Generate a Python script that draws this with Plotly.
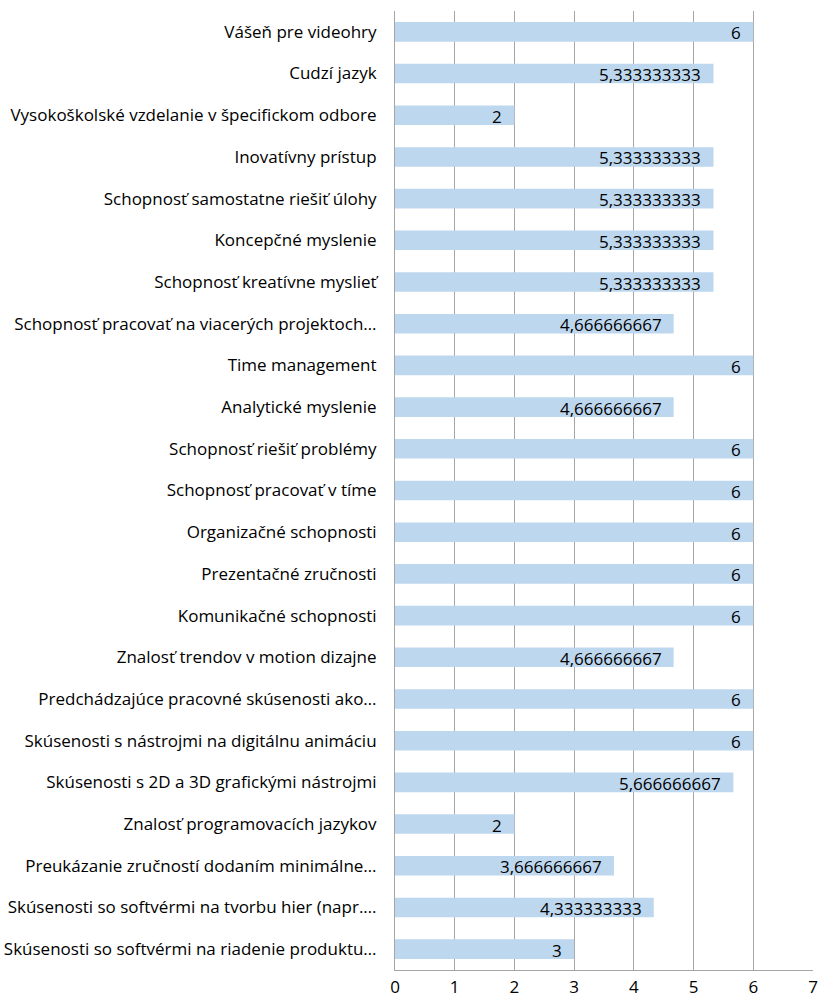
import plotly.graph_objects as go

categories = [
    "Vášeň pre videohry",
    "Cudzí jazyk",
    "Vysokoškolské vzdelanie v špecifickom odbore",
    "Inovatívny prístup",
    "Schopnosť samostatne riešiť úlohy",
    "Koncepčné myslenie",
    "Schopnosť kreatívne myslieť",
    "Schopnosť pracovať na viacerých projektoch…",
    "Time management",
    "Analytické myslenie",
    "Schopnosť riešiť problémy",
    "Schopnosť pracovať v tíme",
    "Organizačné schopnosti",
    "Prezentačné zručnosti",
    "Komunikačné schopnosti",
    "Znalosť trendov v motion dizajne",
    "Predchádzajúce pracovné skúsenosti ako…",
    "Skúsenosti s nástrojmi na digitálnu animáciu",
    "Skúsenosti s 2D a 3D grafickými nástrojmi",
    "Znalosť programovacích jazykov",
    "Preukázanie zručností dodaním minimálne…",
    "Skúsenosti so softvérmi na tvorbu hier (napr.…",
    "Skúsenosti so softvérmi na riadenie produktu…",
]
values = [6, 5.333333333, 2, 5.333333333, 5.333333333, 5.333333333, 5.333333333,
          4.666666667, 6, 4.666666667, 6, 6, 6, 6, 6, 4.666666667, 6, 6,
          5.666666667, 2, 3.666666667, 4.333333333, 3]
x_ticks = [0, 1, 2, 3, 4, 5, 6, 7]

labels = [format(v, ".10g").replace(".", ",") for v in values]

FONT = "Open Sans"
FS = 17

fig = go.Figure(go.Bar(
    y=categories, x=values, orientation="h",
    marker=dict(color="#BDD7EE", line=dict(width=0)),
    width=0.47, hoverinfo="x+y",
))

for cat, v, lab in zip(categories, values, labels):
    fig.add_annotation(
        x=v, y=cat, xref="x", yref="y", text=lab, showarrow=False,
        xanchor="right", yanchor="middle", xshift=-10, yshift=-1,
        font=dict(family=FONT, size=FS, color="#000000"),
    )

fig.update_layout(
    width=819, height=1007,
    margin=dict(l=395, r=6, t=11, b=37, autoexpand=False),
    paper_bgcolor="white", plot_bgcolor="white",
    showlegend=False,
    font=dict(family=FONT, size=FS, color="#000000"),
)
fig.update_xaxes(
    range=[0, 7], tickvals=x_ticks, ticktext=[str(t) for t in x_ticks],
    showgrid=True, gridcolor="#A6A6A6", gridwidth=1,
    showline=True, linecolor="#A6A6A6", linewidth=1, mirror=False,
    zeroline=False, ticks="", ticklabelstandoff=2, automargin=False,
    tickfont=dict(family=FONT, size=FS, color="#000000"),
)
fig.update_yaxes(
    autorange="reversed", showgrid=False,
    showline=True, linecolor="#A6A6A6", linewidth=1,
    ticks="", ticklabelstandoff=14, automargin=False,
    tickfont=dict(family=FONT, size=FS, color="#000000"),
)

fig.write_html("out.html")
